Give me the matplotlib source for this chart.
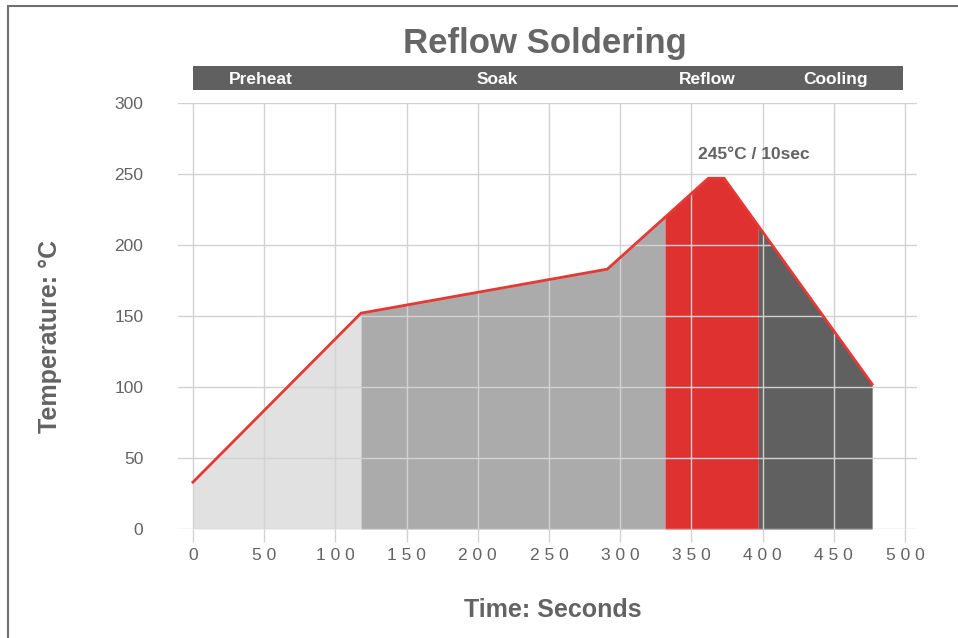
import numpy as np
import matplotlib
matplotlib.use('Agg')
from matplotlib import pyplot as plt
from matplotlib.patches import Rectangle

plt.rcParams['font.family'] = ['Liberation Sans', 'DejaVu Sans']

# profile data (time in s, temperature in C)
time = [0, 118, 291, 362, 373, 477]
temp = [33, 152, 183, 247, 247, 102]

# phase regions
phase_names = ['Preheat', 'Soak', 'Reflow', 'Cooling']
phase_edges = [0, 118, 331.5, 397, 477]
phase_colors = ['#e1e1e1', '#ababab', '#e03131', '#606060']
phase_label_x = [48, 214, 361, 451]

x_ticks = [0, 50, 100, 150, 200, 250, 300, 350, 400, 450, 500]
x_tick_labels = [' '.join(str(t)) for t in x_ticks]
y_ticks = [0, 50, 100, 150, 200, 250, 300]

GRID = '#d2d2d2'
TEXT = '#636363'

fig = plt.figure(figsize=(9.58, 6.38), dpi=100)
W, H = 958, 638
ax = fig.add_axes([178 / W, 1 - 529 / H, (917 - 178) / W, (529 - 103) / H])

# border around figure
fig.patches.append(Rectangle((8 / W, -0.1), 1.2, 1 - 6 / H + 0.1, transform=fig.transFigure,
                             fill=False, edgecolor='#707070', linewidth=1.5))

# filled phases under the profile
for i in range(len(phase_names)):
    a, b = phase_edges[i], phase_edges[i + 1]
    xs = [a] + [t for t in time if a < t < b] + [b]
    ys = np.interp(xs, time, temp)
    ax.fill_between(xs, 0, ys, color=phase_colors[i], linewidth=0, zorder=1)

ax.plot(time, temp, color='#e53935', linewidth=2, zorder=3, solid_joinstyle='miter')

ax.set_xlim(-10.5, 508.5)
ax.set_ylim(0, 300)
ax.set_axisbelow(False)
ax.grid(True, color=GRID, linewidth=1)
for s in ax.spines.values():
    s.set_visible(False)

ax.set_xticks(x_ticks)
ax.set_xticklabels(x_tick_labels)
ax.set_yticks(y_ticks)
ax.tick_params(axis='x', length=9, color=GRID, width=1, pad=5, labelsize=12.5, labelcolor=TEXT)
ax.tick_params(axis='y', length=0, pad=25, labelsize=12.5, labelcolor=TEXT)

ax.set_xlabel('Time: Seconds', fontsize=18, fontweight='bold', color=TEXT)
ax.set_ylabel('Temperature: °C', fontsize=18, fontweight='bold', color=TEXT)
ax.xaxis.set_label_coords((553 - 178) / (917 - 178), -(610 - 529) / (529 - 103))
ax.yaxis.set_label_coords(-(178 - 50) / (917 - 178), (529 - 336) / (529 - 103))
ax.xaxis.label.set_verticalalignment('center')
ax.yaxis.label.set_verticalalignment('center')

# phase bar
bar_y0 = 1 + (103 - 90) / (529 - 103)
bar_h = 24 / (529 - 103)
trans = ax.get_xaxis_transform()
ax.add_patch(Rectangle((0, bar_y0), 498.6, bar_h, transform=trans, color='#606060',
                       clip_on=False, linewidth=0))
for name, lx in zip(phase_names, phase_label_x):
    ax.text(lx, bar_y0 + bar_h / 2, name, transform=trans, ha='center', va='center_baseline',
            color='white', fontsize=12.5, fontweight='bold')

ax.text(394, 264, '245°C / 10sec', ha='center', va='center', fontsize=12.5,
        fontweight='bold', color=TEXT)

fig.text(545 / W, 1 - 44 / H, 'Reflow Soldering', ha='center', va='center',
         fontsize=25, fontweight='bold', color='#666666')

fig.savefig('out.png', dpi=100)
